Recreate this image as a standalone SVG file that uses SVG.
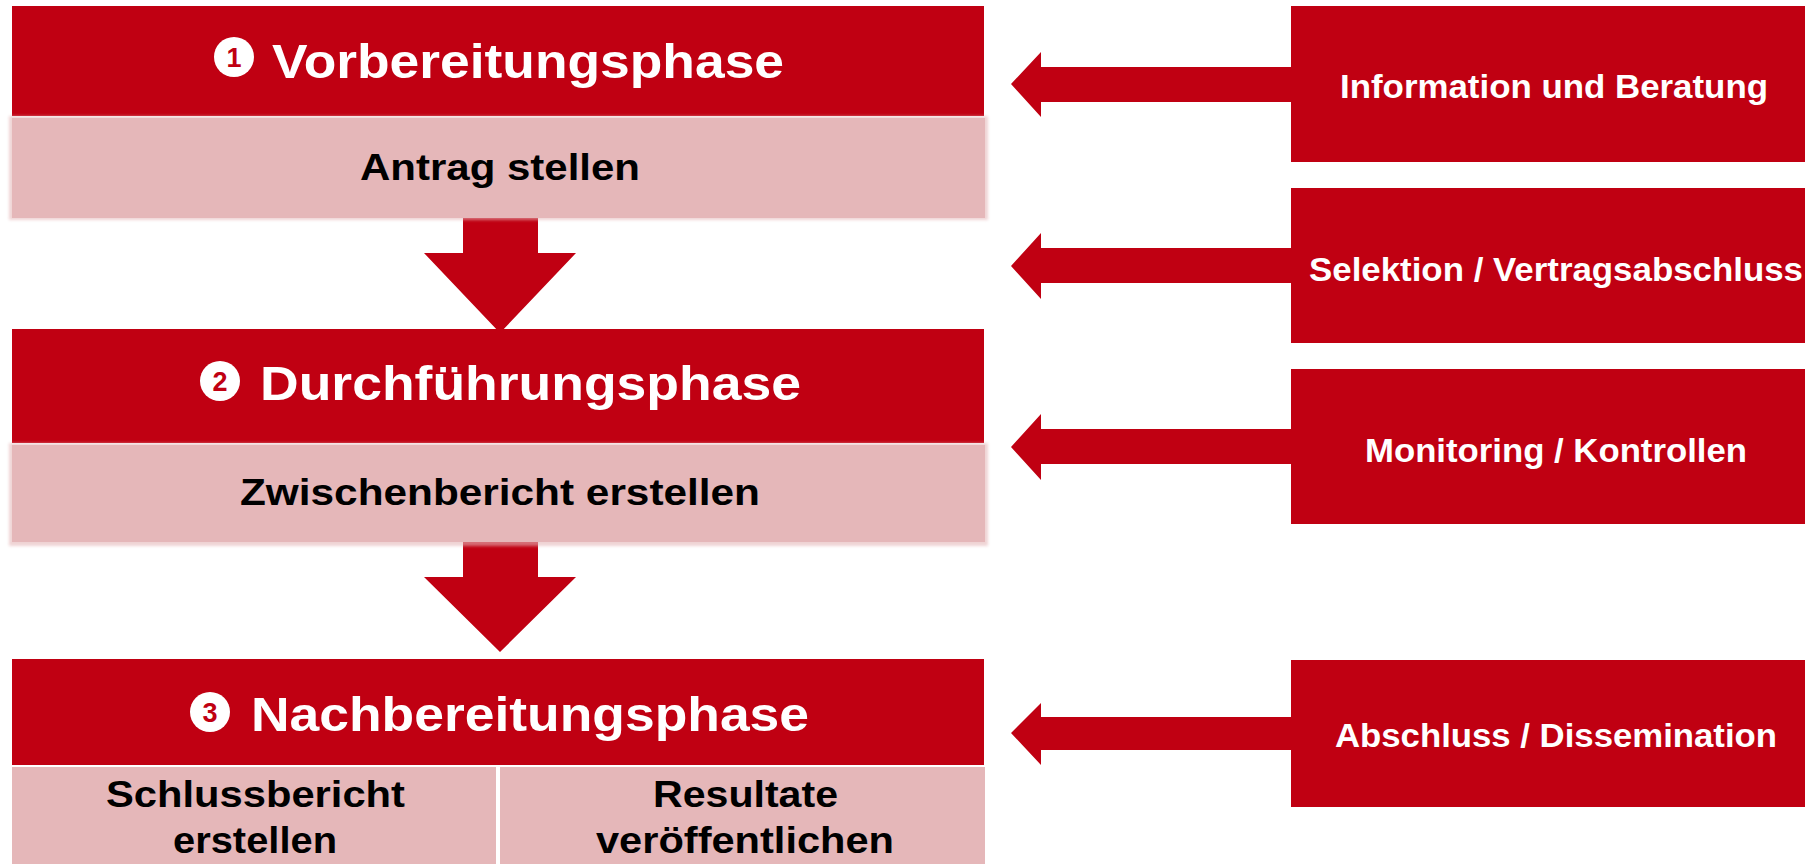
<svg xmlns="http://www.w3.org/2000/svg" width="1815" height="864" viewBox="0 0 1815 864">
<style>
.red{fill:#C00012}
.pink{fill:#E5B7B9}
.h{font-family:"Liberation Sans",Arial,sans-serif;font-weight:bold;fill:#FFFFFF;font-size:48px}
.s{font-family:"Liberation Sans",Arial,sans-serif;font-weight:bold;fill:#000000;font-size:37px}
.r{font-family:"Liberation Sans",Arial,sans-serif;font-weight:bold;fill:#FFFFFF;font-size:33px}
.num{font-family:"Liberation Sans",Arial,sans-serif;font-weight:bold;fill:#C00012;font-size:27px;text-anchor:middle}
.circ{fill:#FFFFFF}
</style>
<defs>
<filter id="soft" x="-2%" y="-5%" width="104%" height="110%">
<feGaussianBlur stdDeviation="1.5"/>
</filter>
</defs>
<rect width="1815" height="864" fill="#FFFFFF"/>

<g id="connectors">
<polygon class="red" points="463,218 538,218 538,253 576,253 500,333 424,253 463,253"/>
<polygon class="red" points="463,542 538,542 538,577 576,577 500,652 424,577 463,577"/>
<polygon class="red" points="1291,67 1041,67 1041,52 1011,84 1041,117 1041,102 1291,102"/>
<polygon class="red" points="1291,248 1041,248 1041,233 1011,266 1041,299 1041,283 1291,283"/>
<polygon class="red" points="1291,429 1041,429 1041,414 1011,447 1041,480 1041,464 1291,464"/>
<polygon class="red" points="1291,717 1041,717 1041,703 1011,733 1041,765 1041,750 1291,750"/>
</g>

<g id="phase1">
<rect class="red" x="12" y="6" width="972" height="110"/>
<circle class="circ" cx="234" cy="57" r="20"/>
<text class="num" x="234" y="67">1</text>
<text class="h" x="272" y="78" textLength="512" lengthAdjust="spacingAndGlyphs">Vorbereitungsphase</text>
</g>
<g id="task1">
<rect class="pink" x="9" y="116" width="979" height="104" filter="url(#soft)" opacity="0.6"/>
<rect class="pink" x="12" y="118" width="973" height="100"/>
<text class="s" x="360" y="180" textLength="280" lengthAdjust="spacingAndGlyphs">Antrag stellen</text>
</g>

<g id="phase2">
<rect class="red" x="12" y="329" width="972" height="114"/>
<circle class="circ" cx="220" cy="381" r="20"/>
<text class="num" x="220" y="391">2</text>
<text class="h" x="260" y="400" textLength="541" lengthAdjust="spacingAndGlyphs">Durchführungsphase</text>
</g>
<g id="task2">
<rect class="pink" x="9" y="443" width="979" height="103" filter="url(#soft)" opacity="0.6"/>
<rect class="pink" x="12" y="445" width="973" height="97"/>
<text class="s" x="240" y="505" textLength="520" lengthAdjust="spacingAndGlyphs">Zwischenbericht erstellen</text>
</g>

<g id="phase3">
<rect class="red" x="12" y="659" width="972" height="106"/>
<circle class="circ" cx="210" cy="712" r="20"/>
<text class="num" x="210" y="722">3</text>
<text class="h" x="251" y="731" textLength="558" lengthAdjust="spacingAndGlyphs">Nachbereitungsphase</text>
</g>
<g id="task3a">
<rect class="pink" x="12" y="767" width="484" height="97"/>
<text class="s" x="106" y="807" textLength="299" lengthAdjust="spacingAndGlyphs">Schlussbericht</text>
<text class="s" x="173" y="853" textLength="164" lengthAdjust="spacingAndGlyphs">erstellen</text>
</g>
<g id="task3b">
<rect class="pink" x="500" y="767" width="485" height="97"/>
<text class="s" x="653" y="807" textLength="185" lengthAdjust="spacingAndGlyphs">Resultate</text>
<text class="s" x="596" y="853" textLength="298" lengthAdjust="spacingAndGlyphs">veröffentlichen</text>
</g>

<g id="support1">
<rect class="red" x="1291" y="6" width="514" height="156"/>
<text class="r" x="1340" y="98" textLength="428" lengthAdjust="spacingAndGlyphs">Information und Beratung</text>
</g>
<g id="support2">
<rect class="red" x="1291" y="188" width="514" height="155"/>
<text class="r" x="1309" y="281" textLength="494" lengthAdjust="spacingAndGlyphs">Selektion / Vertragsabschluss</text>
</g>
<g id="support3">
<rect class="red" x="1291" y="369" width="514" height="155"/>
<text class="r" x="1365" y="462" textLength="382" lengthAdjust="spacingAndGlyphs">Monitoring / Kontrollen</text>
</g>
<g id="support4">
<rect class="red" x="1291" y="660" width="514" height="147"/>
<text class="r" x="1335" y="747" textLength="442" lengthAdjust="spacingAndGlyphs">Abschluss / Dissemination</text>
</g>
</svg>
